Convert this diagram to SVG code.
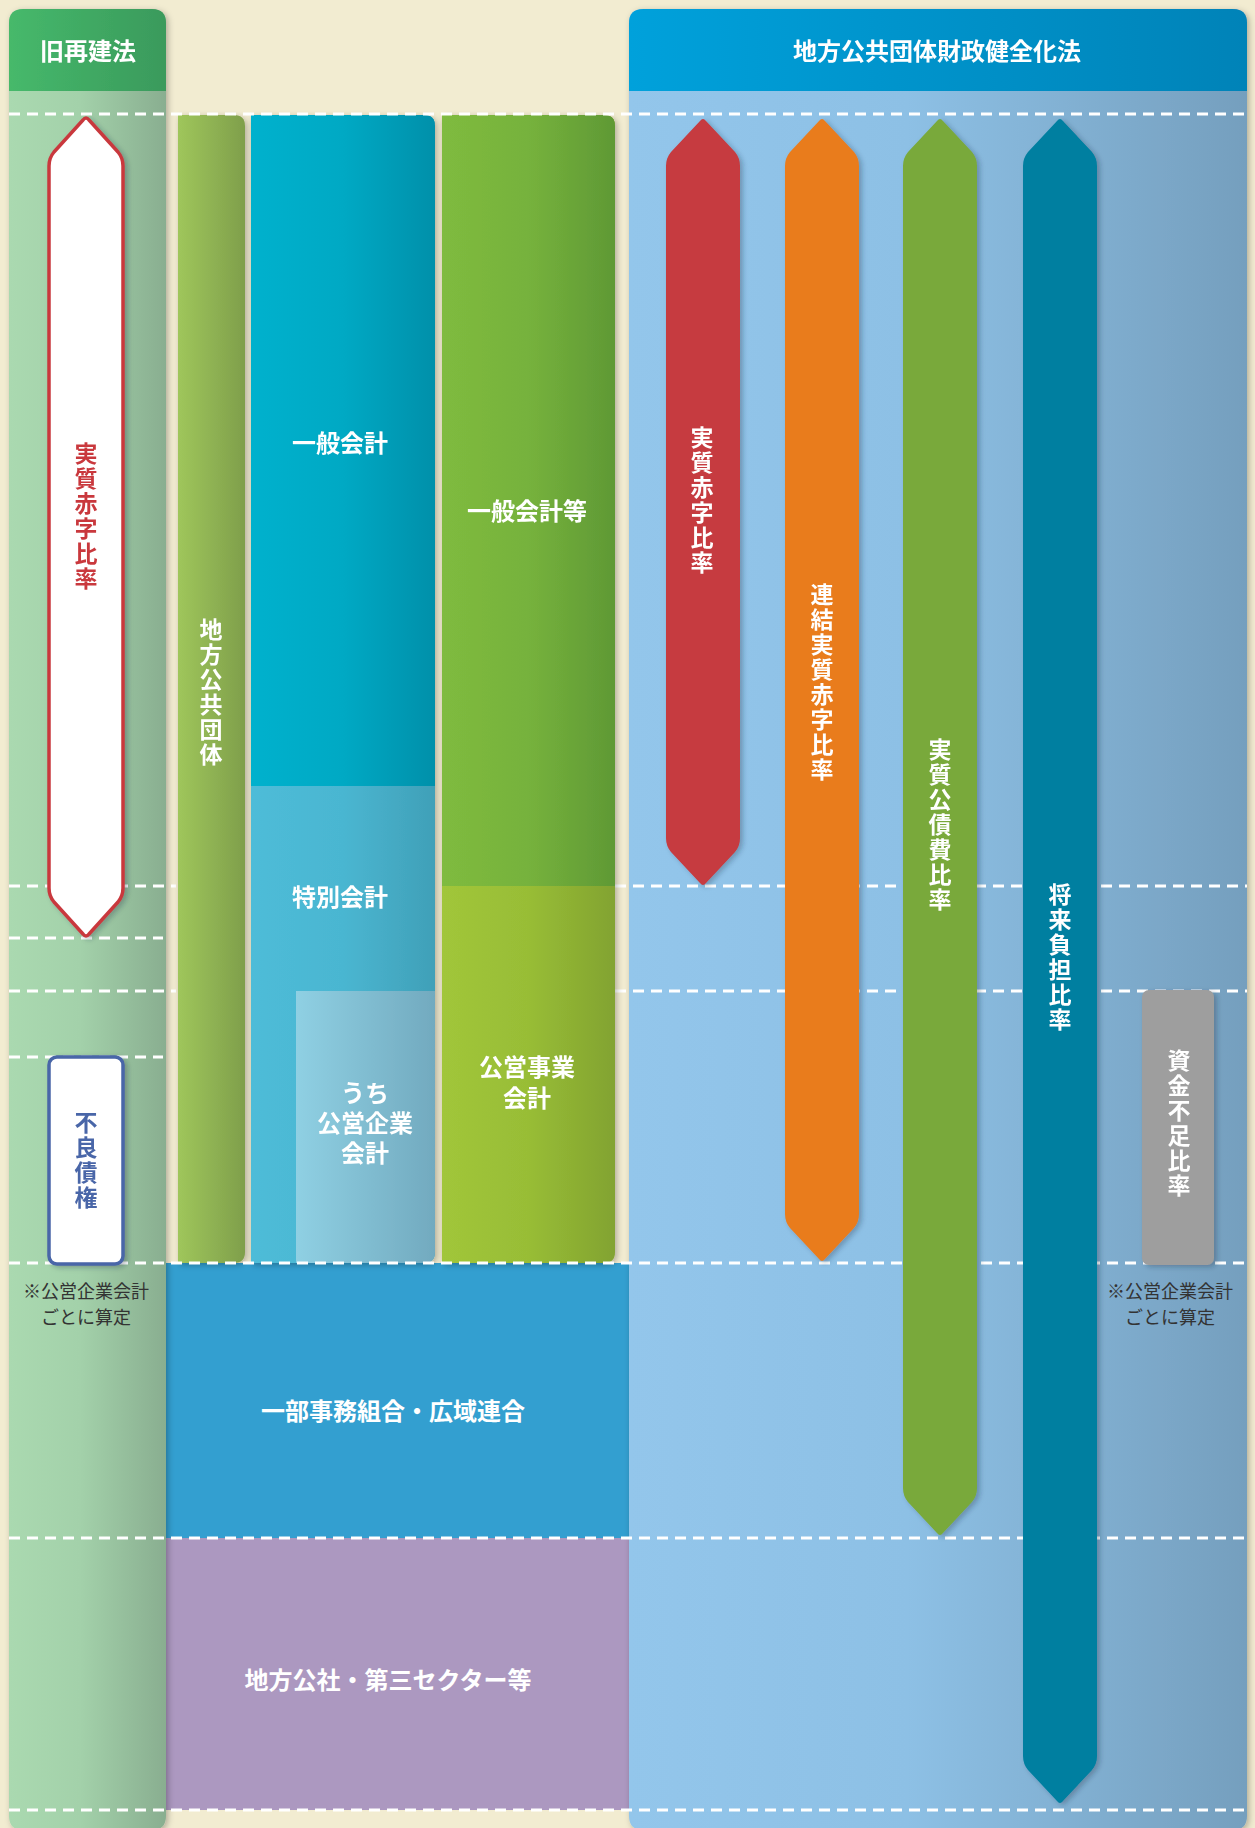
<svg xmlns="http://www.w3.org/2000/svg" width="1255" height="1828" viewBox="0 0 1255 1828">
<defs>
<linearGradient id="gLH" x1="0" x2="1" y1="0" y2="0"><stop offset="0" stop-color="#46b96b"/><stop offset="1" stop-color="#3a9a5c"/></linearGradient>
<linearGradient id="gLB" x1="0" x2="1" y1="0" y2="0"><stop offset="0" stop-color="#aad9b0"/><stop offset="0.45" stop-color="#a3d1aa"/><stop offset="1" stop-color="#89ae90"/></linearGradient>
<linearGradient id="gRH" x1="0" x2="1" y1="0" y2="0"><stop offset="0" stop-color="#05a1db"/><stop offset="1" stop-color="#0383b8"/></linearGradient>
<linearGradient id="gRB" x1="0" x2="1" y1="0" y2="0"><stop offset="0" stop-color="#93c6eb"/><stop offset="0.45" stop-color="#8dc0e5"/><stop offset="1" stop-color="#759fbe"/></linearGradient>
<linearGradient id="gC1" x1="0" x2="1" y1="0" y2="0"><stop offset="0" stop-color="#9fc65b"/><stop offset="1" stop-color="#7f9f4b"/></linearGradient>
<linearGradient id="gC2" x1="0" x2="1" y1="0" y2="0"><stop offset="0" stop-color="#02b1cd"/><stop offset="0.5" stop-color="#01a9c4"/><stop offset="1" stop-color="#0090aa"/></linearGradient>
<linearGradient id="gC3" x1="0" x2="1" y1="0" y2="0"><stop offset="0" stop-color="#4ebcd8"/><stop offset="0.5" stop-color="#4ab6d1"/><stop offset="1" stop-color="#40a0b8"/></linearGradient>
<linearGradient id="gC4" x1="0" x2="1" y1="0" y2="0"><stop offset="0" stop-color="#8fd0e3"/><stop offset="1" stop-color="#72aabf"/></linearGradient>
<linearGradient id="gC5" x1="0" x2="1" y1="0" y2="0"><stop offset="0" stop-color="#7fbb3f"/><stop offset="0.5" stop-color="#76b23c"/><stop offset="1" stop-color="#5f9935"/></linearGradient>
<linearGradient id="gC6" x1="0" x2="1" y1="0" y2="0"><stop offset="0" stop-color="#a1c63a"/><stop offset="0.5" stop-color="#98bd36"/><stop offset="1" stop-color="#82a330"/></linearGradient>
<filter id="sh" x="-20%" y="-5%" width="140%" height="110%"><feDropShadow dx="2" dy="2" stdDeviation="3" flood-color="#000" flood-opacity="0.28"/></filter>
<filter id="sh2" x="-30%" y="-5%" width="160%" height="110%"><feDropShadow dx="3" dy="2" stdDeviation="2.5" flood-color="#203040" flood-opacity="0.3"/></filter>
</defs>
<style>
text{font-family:"Noto Sans CJK JP","Noto Sans CJK SC",sans-serif;font-weight:700;text-anchor:middle}
.w{fill:#fff;font-size:24px}
.v{font-size:23px;writing-mode:vertical-rl;text-orientation:upright;letter-spacing:2px}
.vw{fill:#fff}
.note{fill:#333;font-size:18px;font-weight:400}
.dash{stroke:#fff;stroke-width:3;stroke-dasharray:11 7;fill:none}
</style>
<rect width="1255" height="1828" fill="#f2ecd1"/>

<g id="wide-boxes">
<g id="ichibu"><rect x="160" y="1263" width="475" height="275" fill="#339fd0"/><text class="w" x="393" y="1420">一部事務組合・広域連合</text></g>
<g id="kosha"><rect x="160" y="1538" width="475" height="272" fill="#ac98c0"/><text class="w" x="388" y="1689">地方公社・第三セクター等</text></g>
</g>

<g id="panel-old" filter="url(#sh)">
<path d="M9,23 Q9,9 23,9 L152,9 Q166,9 166,23 L166,1816 Q166,1830 152,1830 L23,1830 Q9,1830 9,1816 Z" fill="url(#gLB)"/>
<path d="M9,23 Q9,9 23,9 L152,9 Q166,9 166,23 L166,91 L9,91 Z" fill="url(#gLH)"/>
<text class="w" x="88" y="60">旧再建法</text>
</g>
<g id="panel-new" filter="url(#sh)">
<path d="M629,23 Q629,9 643,9 L1233,9 Q1247,9 1247,23 L1247,1816 Q1247,1830 1233,1830 L643,1830 Q629,1830 629,1816 Z" fill="url(#gRB)"/>
<path d="M629,23 Q629,9 643,9 L1233,9 Q1247,9 1247,23 L1247,91 L629,91 Z" fill="url(#gRH)"/>
<text class="w" x="937" y="60">地方公共団体財政健全化法</text>
</g>

<g id="connectors">
<line class="dash" x1="9" y1="886" x2="176" y2="886"/>
<line class="dash" x1="615" y1="886" x2="1247" y2="886"/>
<line class="dash" x1="9" y1="938" x2="163" y2="938"/>
<line class="dash" x1="9" y1="991" x2="176" y2="991"/>
<line class="dash" x1="615" y1="991" x2="1247" y2="991"/>
<line class="dash" x1="9" y1="1057" x2="163" y2="1057"/>
</g>

<g id="col-chiho" filter="url(#sh)">
<path d="M178,115 L234,115 Q245,115 245,126 L245,1252 Q245,1263 234,1263 L178,1263 Z" fill="url(#gC1)"/>
<text class="v vw" x="211" y="693">地方公共団体</text>
</g>
<g id="col-ippan" filter="url(#sh)">
<path d="M251,115 L424,115 Q435,115 435,126 L435,1252 Q435,1263 424,1263 L251,1263 Z" fill="url(#gC3)"/>
<path d="M251,115 L424,115 Q435,115 435,126 L435,786 L251,786 Z" fill="url(#gC2)"/>
<path d="M296,991 L435,991 L435,1252 Q435,1263 424,1263 L296,1263 Z" fill="url(#gC4)"/>
<text class="w" x="340" y="452">一般会計</text>
<text class="w" x="340" y="906">特別会計</text>
<text class="w" x="365" y="1102"><tspan x="365" y="1102">うち</tspan><tspan x="365" y="1132">公営企業</tspan><tspan x="365" y="1162">会計</tspan></text>
</g>
<g id="col-ippanto" filter="url(#sh)">
<path d="M442,115 L604,115 Q615,115 615,126 L615,1252 Q615,1263 604,1263 L442,1263 Z" fill="url(#gC6)"/>
<path d="M442,115 L604,115 Q615,115 615,126 L615,886 L442,886 Z" fill="url(#gC5)"/>
<text class="w" x="527" y="520">一般会計等</text>
<text class="w" x="527" y="1076"><tspan x="527" y="1076">公営事業</tspan><tspan x="527" y="1107">会計</tspan></text>
</g>

<g id="connectors-wide">
<line class="dash" x1="9" y1="114" x2="1247" y2="114"/>
<line class="dash" x1="9" y1="1263" x2="1247" y2="1263"/>
<line class="dash" x1="9" y1="1538" x2="1247" y2="1538"/>
<line class="dash" x1="9" y1="1810" x2="1247" y2="1810"/>
</g>

<g id="old-jisshitsu" filter="url(#sh2)">
<path d="M83,120 Q86,116 89,120 L118,152 Q123,158 123,166 L123,888 Q123,896 118,902 L89,934 Q86,938 83,934 L54,902 Q49,896 49,888 L49,166 Q49,158 54,152 Z" fill="#fff" stroke="#c9393e" stroke-width="3.5" stroke-linejoin="round"/>
<text class="v" x="86" y="517" fill="#c9393e">実質赤字比率</text>
</g>
<g id="old-furyo" filter="url(#sh2)">
<rect x="49" y="1057" width="74" height="207" rx="8" fill="#fff" stroke="#4a66a8" stroke-width="3.5"/>
<text class="v" x="86" y="1161" fill="#4a66a8">不良債権</text>
</g>
<g id="note-left"><text class="note" x="86" y="1298"><tspan x="86" y="1298">※公営企業会計</tspan><tspan x="86" y="1324">ごとに算定</tspan></text></g>

<g id="new-jisshitsu" filter="url(#sh2)">
<path d="M700,121 Q703,117 706,121 L735,152 Q740,158 740,166 L740,838 Q740,846 735,852 L706,883 Q703,887 700,883 L671,852 Q666,846 666,838 L666,166 Q666,158 671,152 Z" fill="#c63a3f"/>
<text class="v vw" x="702" y="501">実質赤字比率</text>
</g>
<g id="new-renketsu" filter="url(#sh2)">
<path d="M819,121 Q822,117 825,121 L854,152 Q859,158 859,166 L859,1214 Q859,1222 854,1228 L825,1259 Q822,1263 819,1259 L790,1228 Q785,1222 785,1214 L785,166 Q785,158 790,152 Z" fill="#e97c1e"/>
<text class="v vw" x="822" y="683">連結実質赤字比率</text>
</g>
<g id="new-kosaihi" filter="url(#sh2)">
<path d="M937,121 Q940,117 943,121 L972,152 Q977,158 977,166 L977,1488 Q977,1496 972,1502 L943,1533 Q940,1537 937,1533 L908,1502 Q903,1496 903,1488 L903,166 Q903,158 908,152 Z" fill="#79a93a"/>
<text class="v vw" x="940" y="825">実質公債費比率</text>
</g>
<g id="new-shorai" filter="url(#sh2)">
<path d="M1057,121 Q1060,117 1063,121 L1092,152 Q1097,158 1097,166 L1097,1756 Q1097,1764 1092,1770 L1063,1801 Q1060,1805 1057,1801 L1028,1770 Q1023,1764 1023,1756 L1023,166 Q1023,158 1028,152 Z" fill="#007fa0"/>
<text class="v vw" x="1060" y="958">将来負担比率</text>
</g>
<g id="new-shikin" filter="url(#sh2)">
<rect x="1142" y="990" width="72" height="275" rx="7" fill="#9e9e9e"/>
<text class="v vw" x="1179" y="1124">資金不足比率</text>
</g>
<g id="note-right"><text class="note" x="1170" y="1298"><tspan x="1170" y="1298">※公営企業会計</tspan><tspan x="1170" y="1324">ごとに算定</tspan></text></g>
</svg>
